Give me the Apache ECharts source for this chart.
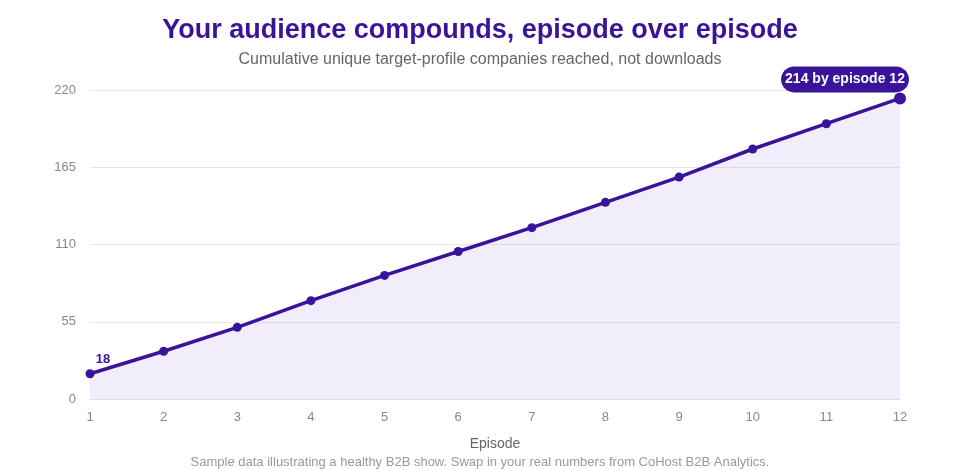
<!DOCTYPE html>
<html>
<head>
<meta charset="utf-8">
<script src="https://cdn.jsdelivr.net/npm/echarts@6/dist/echarts.min.js"></script>
<style>
  html,body{margin:0;padding:0;background:#fff;}
  #chart{width:960px;height:470px;}
</style>
</head>
<body>
<div id="chart"></div>
<script>
const episodes=['1','2','3','4','5','6','7','8','9','10','11','12']
const reached=[18,34,51,70,88,105,122,140,158,178,196,214]
const yTicks={min:0,max:220,interval:55}

const purple='#3a139b'
const chart=echarts.init(document.getElementById('chart'))

const seriesData=reached.map((v,i)=>{
    if(i===0){
        return {
            value:v,
            label:{
                show:true,
                position:'top',
                offset:[13,2],
                formatter:'{c}',
                color:purple,
                fontWeight:'bold',
                fontSize:13
            }
        }
    }
    if(i===reached.length-1){
        return {
            value:v,
            symbolSize:12,
            label:{
                show:true,
                position:'top',
                offset:[-55,5],
                formatter:'{c} by episode '+episodes[i],
                color:'#fff',
                backgroundColor:purple,
                borderRadius:13,
                lineHeight:16,
                padding:[5,4,5,4],
                fontWeight:'bold',
                fontSize:14
            }
        }
    }
    return v
})

const option={
    title:[
        {
            text:'Your audience compounds, episode over episode',
            left:'center',
            top:12,
            textStyle:{color:purple,fontSize:27,fontWeight:'bold',fontFamily:'Liberation Sans, Arial, sans-serif'}
        },
        {
            text:'Cumulative unique target-profile companies reached, not downloads',
            left:'center',
            top:47,
            textStyle:{color:'#666',fontSize:16,fontWeight:'normal',fontFamily:'Liberation Sans, Arial, sans-serif'}
        },
        {
            text:'Sample data illustrating a healthy B2B show. Swap in your real numbers from CoHost B2B Analytics.',
            left:'center',
            top:451,
            textStyle:{color:'#999',fontSize:13,fontWeight:'normal',fontFamily:'Liberation Sans, Arial, sans-serif'}
        }
    ],
    grid:{left:90,right:60,top:90,bottom:71},
    textStyle:{fontFamily:'Liberation Sans, Arial, sans-serif'},
    xAxis:{
        type:'category',
        boundaryGap:false,
        data:episodes,
        name:'Episode',
        nameLocation:'middle',
        nameGap:38,
        nameTextStyle:{color:'#666',fontSize:14},
        axisTick:{show:false},
        axisLine:{lineStyle:{color:'#e0dcea'}},
        axisLabel:{color:'#888',fontSize:13,margin:12}
    },
    yAxis:{
        type:'value',
        min:yTicks.min,
        max:yTicks.max,
        interval:yTicks.interval,
        axisLine:{show:false},
        axisTick:{show:false},
        axisLabel:{color:'#888',fontSize:13,margin:14},
        splitLine:{lineStyle:{color:'#e8e8e8'}}
    },
    series:[
        {
            type:'line',
            data:seriesData,
            symbol:'circle',
            symbolSize:9,
            lineStyle:{color:purple,width:3.5},
            itemStyle:{color:purple},
            areaStyle:{color:'rgba(120,70,200,0.14)'},
            z:3
        }
    ]
}

chart.setOption(option)
</script>
</body>
</html>
